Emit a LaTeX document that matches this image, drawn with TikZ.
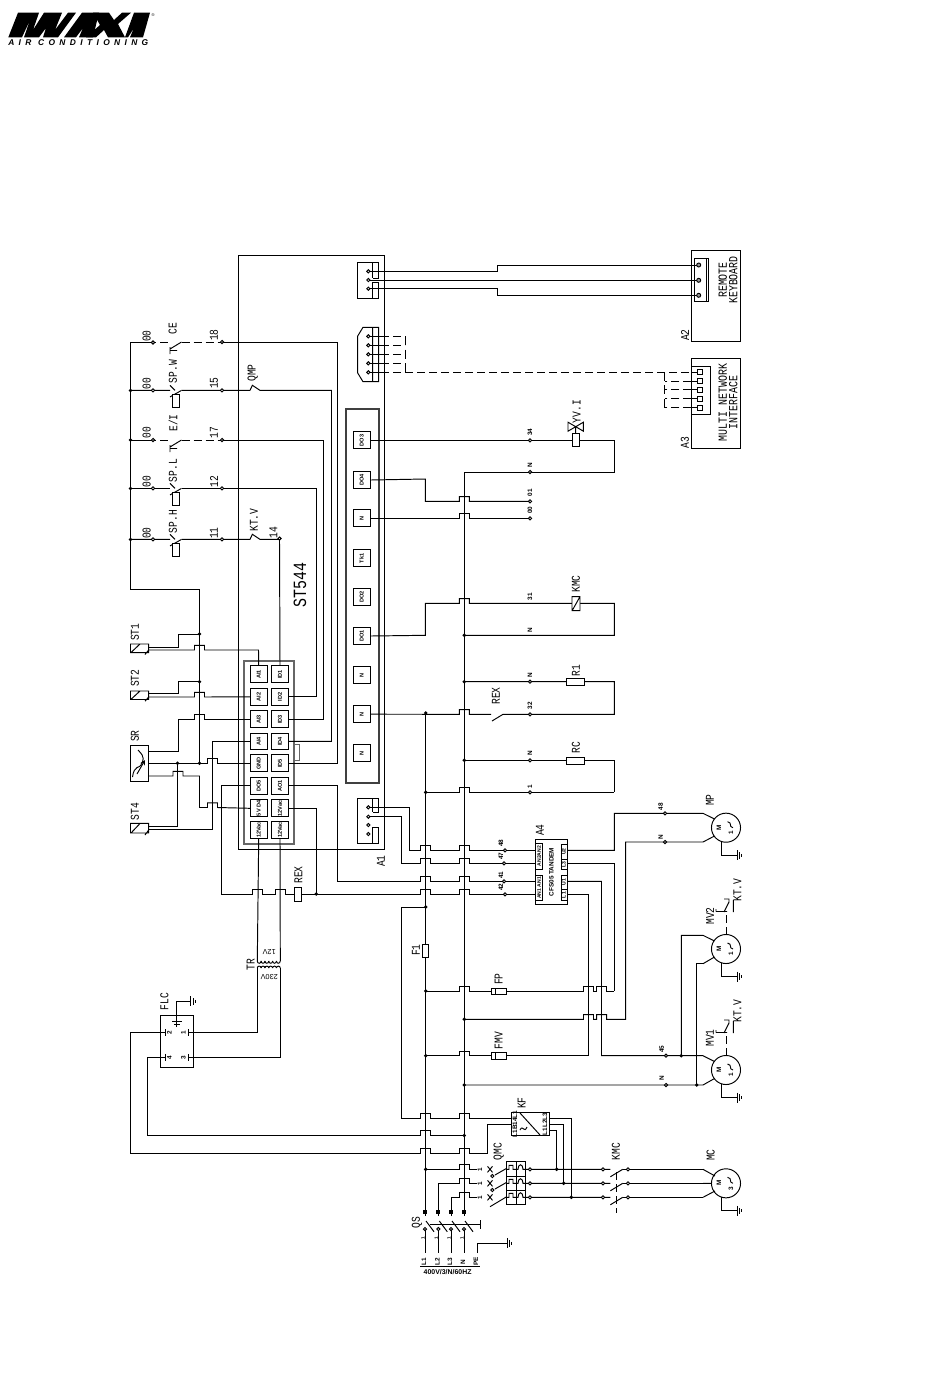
\documentclass[tikz,border=0pt]{standalone}
\usepackage{fontspec}
\setmainfont{Liberation Sans}
\newfontfamily\cad[FakeStretch=0.8]{Liberation Mono}
\newfontfamily\logof[LetterSpace=52]{Liberation Sans}
\newcount\lc
\tikzset{
 wire/.style={line width=0.72pt,line join=miter},
 dwire/.style={line width=0.72pt,dash pattern=on 6pt off 3pt},
 iobox/.style={draw,line width=0.72pt,fill=white,minimum width=12.5pt,minimum height=12.5pt,inner sep=0pt,font=\fontsize{4.2}{4}\selectfont\bfseries},
 lab/.style={inner sep=0pt,font=\cad\fontsize{9}{9}\selectfont},
 tiny/.style={inner sep=0pt,font=\fontsize{4.8}{5}\selectfont\bfseries},
}
% hump of a wire over a vertical line at x, wire running left to right at y
\newcommand\jp[2]{-- ({#1-5},#2) -- ({#1-5},{#2-4.6}) -- ({#1+5},{#2-4.6}) -- ({#1+5},#2)}
\newcommand\dt[2]{\fill (#1,#2) circle (1.9);}
\newcommand\tm[2]{\filldraw[fill=white,line width=0.7pt] (#1,#2) circle (1.6);}
\newcommand\lb[3]{\global\advance\lc by 1 \node[lab,rotate=90] (lb\the\lc) at (#1,#2) {#3};}
\newcommand\lh[3]{\global\advance\lc by 1 \node[tiny,rotate=90] (lb\the\lc) at (#1,#2) {#3};}
\newcommand\earth[2]{\draw[wire] (#1,{#2-5}) -- (#1,{#2+5}) ({#1+2.4},{#2-3.2}) -- ({#1+2.4},{#2+3.2}) ({#1+4.6},{#2-1.5}) -- ({#1+4.6},{#2+1.5});}
\newcommand\motor[3]{%
 \node[circle,draw,line width=0.72pt,minimum size=21.8pt,inner sep=0pt] (#1) at (726,#2) {};
 \lh{719}{#2}{M}\lh{731}{#2+5}{#3}
 \draw[line width=.7pt] (727.5,{#2-6}) .. controls (733,{#2-5}) and (728,{#2-1}) .. (733,{#2});
 \draw[wire] (721.7,{#2+13.7}) -- (721.7,{#2+27.6}) -- (737.3,{#2+27.6});
 \earth{737.3}{#2+27.6}}
\newcommand\ktv[1]{% y of motor
 \draw[dwire] (726,{#1-14.5}) -- (726,{#1-37});
 \draw[wire] (716,{#1-37.5}) -- (727,{#1-37.5}) (716,{#1-37.5}) -- (716,{#1-40}) (724,{#1-37}) -- (729,{#1-47}) (724,{#1-50}) -- (729,{#1-50}) -- (729,{#1-46}) (733.3,{#1-49}) -- (733.3,{#1-37});}
\newcommand\spc[2]{% pressure contact with actuator
 \draw[wire] (170,{#1-5}) -- (175,#1) (170,{#1+6.5}) -- (181.5,#1) (175.7,{#1+3}) -- (175.7,{#1+4});
 \draw[wire,fill=white] (172.4,{#1+4}) rectangle (179,{#1+17.5});}
\newcommand\fic[1]{% flow contact with dashed wires
 \draw[wire] (170,{#1+7}) -- (181.5,#1) (170,{#1+8.5}) -- (177,{#1+8.5}) (170,{#1+5}) -- (170,{#1+12});}
\begin{document}
\begin{tikzpicture}[x=0.75pt,y=-0.75pt]
\useasboundingbox (0,0) rectangle (950,1379);
% ---------- logo
\fill (8.3,37.3) -- (18,12.7) -- (39,12.7) -- (33,30) -- (44,12.7) -- (62,12.7) -- (55,30) -- (68,12.7) -- (76,12.7) -- (58,37.3) -- (43,37.3) -- (46,28) -- (39,37.3) -- (24,37.3) -- (30,20) -- (22,37.3) -- cycle;
\fill (64,37.3) -- (82,12.7) -- (99,12.7) -- (93,37.3) -- (79,37.3) -- (83,28) -- (76,37.3) -- cycle;
\fill (93,12.7) -- (109,12.7) -- (114,20) -- (122,12.7) -- (131,12.7) -- (118,24) -- (125,37.3) -- (108,37.3) -- (104,30) -- (96,37.3) -- (86,37.3) -- (100,25) -- cycle;
\fill (125,37.3) -- (134,12.7) -- (150,12.7) -- (143,37.3) -- (130,37.3) -- (134,28) -- (128,37.3) -- cycle;
\node[inner sep=0pt,font=\fontsize{3}{3}\selectfont] (reg) at (153,15) {®};
\node[inner sep=0pt,anchor=west,font=\logof\fontsize{6.3}{7}\selectfont\bfseries\itshape] (airc) at (8,43) {AIR CONDITIONING};
% ---------- A1 and panels
\draw[wire] (238.3,255) rectangle (384.5,849);
\draw[line width=1.3pt,black!75] (345.7,409) rectangle (379,783.3);
\draw[line width=1.3pt,black!60] (244,661) rectangle (294.3,844);
\draw[line width=.7pt,black!60] (294.3,744) -- (299.5,744) -- (299.5,760) -- (294.3,760);
% ---------- I/O boxes of module
\foreach \n/\t/\y in {ai1/AI1/674.3,ai2/AI2/696.8,ai3/AI3/719.3,ai4/AI4/741.4,gnd/GND/763.3,do5/DO5/785.7,vd/5V D4/808.3,vl/12Vac/830}
 \node[iobox] (\n) at (258.7,\y) {\rotatebox{90}{\t}};
\foreach \n/\t/\y in {id1/ID1/674.3,id2/ID2/696.8,id3/ID3/719.3,id4/ID4/741.4,id5/ID5/763.3,ao1/AO1/785.7,vr/12Vac/808.3,vm/12Vac/830}
 \node[iobox] (\n) at (280,\y) {\rotatebox{90}{\t}};
\foreach \n/\t/\y in {od3/DO3/440.3,od4/DO4/480,on1/N/518.3,tk/Tk1/558.3,od2/DO2/597,od1/DO1/636,on2/N/675,on3/N/714.2,on4/N/753}
 \node[iobox] (\n) at (361.7,\y) {\rotatebox{90}{\t}};
% ---------- left rail
\draw[wire] (130.5,342) -- (130.5,589) -- (199.5,589) -- (199.5,763.3);
\foreach \y in {390.4,440,488.4,539.4} {\dt{130.5}{\y}}
% CE
\draw[wire] (130.5,342) -- (148,342);
\draw[dwire] (148,342) -- (170,342) (181.5,342) -- (222,342);
\draw[wire] (222,342) -- (337.5,342) -- (337.5,763.3) -- (id5.east);
\fic{342}
\tm{153}{342.5}\tm{222}{342}
% SP.W
\draw[wire] (130.5,390.4) -- (170,390.4) (181.5,390.4) -- (250,390.4) (250,390.4) -- (252.5,385) (252,385) -- (260,390.4) -- (331.5,390.4) -- (331.5,741.4) -- (id4.east);
\spc{390.4}{}
\tm{153}{390.4}\tm{222}{390.4}
% E/I
\draw[wire] (130.5,440) -- (148,440);
\draw[dwire] (148,440) -- (170,440) (181.5,440) -- (222,440);
\draw[wire] (222,440) -- (323.5,440) -- (323.5,719.3) -- (id3.east);
\fic{440}
\tm{153}{440}\tm{222}{440}
% SP.L
\draw[wire] (130.5,488.4) -- (170,488.4) (181.5,488.4) -- (316.5,488.4) -- (316.5,696.8) -- (id2.east);
\spc{488.4}{}
\tm{153}{488.4}\tm{222}{488.4}
% SP.H
\draw[wire] (130.5,539.4) -- (170,539.4) (181.5,539.4) -- (250,539.4) -- (252.5,534) (252,534) -- (260,539.4) -- (279.5,539.4) -- (id1.north);
\spc{539.4}{}
\tm{153}{539.4}\tm{222}{539.4}\tm{279.5}{538.5}
% ---------- sensors
\draw[wire] (130.5,644) rectangle (148.7,652.7) (131,652.5) -- (140,644) (145,654.5) -- (148.7,650);
\draw[wire] (148.7,647) -- (178,647) -- (178,634) -- (199.5,634);
\draw[wire] (148.7,650) \jp{199.5}{650} -- (258.5,650) -- (ai1.north);
\dt{199.5}{634}
\draw[wire] (130.5,691) rectangle (148.7,699.5) (131,699.3) -- (140,691) (145,701.2) -- (148.7,697);
\draw[wire] (148.7,693.5) -- (178,693.5) -- (178,681.7) -- (199.5,681.7);
\draw[wire] (148.7,697) \jp{199.5}{697} -- (ai2.west);
\dt{199.5}{681.7}
\draw[wire] (130.5,745.7) rectangle (148.7,781);
\draw[line width=.7pt] (132.5,777) .. controls (134,765) and (140,768) .. (141,765) .. controls (143,760) and (146,758) .. (138,750);
\draw[line width=.7pt,-stealth] (137,774) -- (145,760);
\draw[wire] (148.7,751.7) -- (178,751.7) -- (178,719.3) \jp{199.5}{719.3} -- (ai3.west);
\draw[wire] (148.7,763.3) \jp{212.5}{763.3} -- (gnd.west);
\dt{177.5}{763.3}\dt{199.5}{763.3}
\draw[wire] (148.7,776) \jp{178}{776} -- (199.5,776) -- (199.5,807.5) \jp{212.5}{807.5} -- (vd.west);
\draw[wire] (130.5,823.3) rectangle (148.7,833) (131,833) -- (140,823.5) (145,835) -- (148.7,830);
\draw[wire] (148.7,826) -- (177.8,826) -- (177.8,763.3);
\draw[wire] (148.7,829.5) -- (212.5,829.5) -- (212.5,741.4) -- (ai4.west);
% ---------- module outputs and REX
\draw[wire] (do5.west) -- (221,785.7) -- (221,894) \jp{257.3}{894} \jp{280.3}{894} -- (294.3,894);
\draw[wire,fill=white] (294.3,887.3) rectangle (301.7,901.7);
\draw[wire] (301.7,894) \jp{425.7}{894} \jp{464.3}{894} -- (535.3,894);
\draw[wire] (vr.east) -- (316.3,808.3) -- (316.3,894); \dt{316.3}{894}
\draw[wire] (ao1.east) -- (337.5,785.7) -- (337.5,881.3) \jp{425.7}{881.3} \jp{464.3}{881.3} -- (535.3,881.3);
\draw[wire] (vl.south) -- (257.3,961);
\draw[wire] (vm.south) -- (280.3,961);
% ---------- transformer
\foreach \i in {0,...,5} {
 \draw[line width=.7pt] ({257.3+\i*3.83},961) .. controls ({257.3+\i*3.83},964) and ({261.1+\i*3.83},964) .. ({261.1+\i*3.83},961);
 \draw[line width=.7pt] ({257.3+\i*3.83},968) .. controls ({257.3+\i*3.83},965.5) and ({261.1+\i*3.83},965.5) .. ({261.1+\i*3.83},968);}
\draw[wire] (257.3,968) -- (257.3,1032.7) -- (193.3,1032.7);
\draw[wire] (280.3,968) -- (280.3,1057.3) -- (193.3,1057.3);
% ---------- FLC
\draw[wire] (160.7,1015) rectangle (193.3,1067.3);
\draw[wire] (176.7,1027) -- (176.7,1001.3) -- (190.7,1001.3);
\earth{190.7}{1001.3}
\draw[wire] (172,1021.5) -- (181.5,1021.5) (174,1024) -- (179.5,1024);
\draw[wire] (165,1029) -- (165,1036) (188.3,1029) -- (188.3,1036) (165,1053.8) -- (165,1060.8) (188.3,1053.8) -- (188.3,1060.8);
\draw[wire] (160.7,1032.7) -- (165,1032.7) (160.7,1057.3) -- (165,1057.3) (188.3,1032.7) -- (193.3,1032.7) (188.3,1057.3) -- (193.3,1057.3);
\lh{169.5}{1032.7}{2}\lh{183.5}{1032.7}{1}\lh{169.5}{1057.3}{4}\lh{183.5}{1057.3}{3}
\draw[wire] (160.7,1032.7) -- (130.7,1032.7) -- (130.7,1153) \jp{425.7}{1153} \jp{464.3}{1153} -- (487.3,1153) -- (487.3,1124.3) -- (511,1124.3);
\draw[wire] (160.7,1057.3) -- (147.3,1057.3) -- (147.3,1135.5) \jp{425.7}{1135.5} -- (464.3,1135.5);
\dt{464.3}{1135.5}
% ---------- main buses
\draw[wire] (425.7,713) -- (425.7,1216);
\draw[wire] (464.3,472) -- (464.3,1216);
\draw[wire,fill=white] (422,944.3) rectangle (428.9,957.7);
\foreach \y in {713,792.3,907,991,1055.7,1169.3} {\dt{425.7}{\y}}
\foreach \y in {635.3,681.7,760.3,1019.3,1085} {\dt{464.3}{\y}}
\draw[wire] (425.7,907) -- (401.7,907) -- (401.7,1118) \jp{425.7}{1118} \jp{464.3}{1118} -- (511,1118);
% ---------- DO rungs
\draw[wire] (od3.east) -- (572.3,440.3) (579.7,440.3) -- (614.3,440.3) -- (614.3,472) -- (464.3,472);
\draw[wire,fill=white] (572.3,433.3) rectangle (579.7,446.7);
\draw[wire] (568,422.2) -- (583.4,431.2) -- (583.4,422.2) -- (568,431.2) -- cycle (575.7,426.7) -- (575.7,433.3);
\draw[wire] (od4.east) -- (425.3,479) -- (425.3,501.3) \jp{464.3}{501.3} -- (530,501.3);
\draw[wire] (on1.east) \jp{464.3}{518.3} -- (530,518.3);
\draw[wire] (od1.east) -- (425.3,635.3) -- (425.3,603.3) \jp{464.3}{603.3} -- (572,603.3) (580,603.3) -- (614.3,603.3) -- (614.3,635.3) -- (464.3,635.3);
\draw[wire,fill=white] (572,596.7) rectangle (580,610.7) (572.5,610) -- (579.5,597.5);
\draw[wire] (464.3,681.7) -- (566.3,681.7) (584.7,681.7) -- (614.3,681.7) -- (614.3,714.3) -- (503,714.3) -- (492,721);
\draw[wire,fill=white] (566.3,678.3) rectangle (584.7,685.7);
\draw[wire] (on3.east) \jp{464.3}{714.3} -- (491,714.3);
\draw[wire] (464.3,760.3) -- (566.3,760.3) (584.7,760.3) -- (614.3,760.3) -- (614.3,792.3);
\draw[wire,fill=white] (566.3,757) rectangle (584.7,764);
\draw[wire] (425.7,792.3) \jp{464.3}{792.3} -- (614.3,792.3);
\tm{530}{440.3}\tm{530}{472}\tm{530}{501.3}\tm{530}{518.3}\tm{530}{681.7}\tm{530}{714.3}\tm{530}{760.3}\tm{530}{792.3}
\lh{530}{432}{34}\lh{530}{465}{N}\lh{530}{492.7}{01}\lh{530}{510}{00}\lh{530}{596.7}{31}\lh{530}{630}{N}\lh{530}{675}{N}\lh{530}{705.7}{32}\lh{530}{753}{N}\lh{530}{786.7}{1}
% ---------- connectors on A1
\draw[wire] (372,262.7) -- (357.7,262.7) -- (357.7,298.7) -- (372,298.7) (372,262.7) -- (378.7,262.7) -- (378.7,278.3) -- (372.7,278.3) (372.7,262.7) -- (372.7,278.3) (372.7,282.3) -- (378.7,282.3) -- (378.7,298.7) -- (372,298.7) (372.7,282.3) -- (372.7,298.7);
\draw[wire] (372,327.3) -- (363,327.3) -- (357.7,336) -- (357.7,373) -- (363,381.7) -- (372,381.7) (372,327.3) -- (378.7,327.3) -- (378.7,381.7) -- (372,381.7) (372.7,327.3) -- (372.7,381.7);
\draw[wire] (372,798.3) -- (357.7,798.3) -- (357.7,843.3) -- (372,843.3) (372,798.3) -- (378.7,798.3) -- (378.7,812) -- (372.7,812) (372.7,798.3) -- (372.7,812) (372.7,827) -- (378.7,827) -- (378.7,843.3) -- (372,843.3) (372.7,827) -- (372.7,843.3);
\draw[wire] (368.3,271.3) -- (497.3,271.3) -- (497.3,265) -- (698.7,265);
\draw[wire] (368.3,280) -- (698.7,280);
\draw[wire] (368.3,288.7) -- (497.3,288.7) -- (497.3,295.3) -- (698.7,295.3);
\foreach \y in {336.3,345.3,354.3,363.3,372.3} {\draw[wire] (368.3,\y) -- (381,\y); \draw[dwire] (381,\y) -- (405,\y);}
\draw[wire] (405.5,336.3) -- (405.5,345.3) (405.5,349.5) -- (405.5,359) (405.5,363.3) -- (405.5,372.3);
\draw[dwire] (405,372.3) -- (692,372.3);
\draw[wire] (368.3,807.3) -- (409.3,807.3) -- (409.3,850.3) \jp{425.7}{850.3} \jp{464.3}{850.3} -- (535.3,850.3);
\draw[wire] (368.3,816.7) -- (401.7,816.7) -- (401.7,863.3) \jp{425.7}{863.3} \jp{464.3}{863.3} -- (535.3,863.3);
\foreach \y in {271.3,280,288.7,336.3,345.3,354.3,363.3,372.3,807.3,816.7,825,834} {\tm{368.3}{\y}}
% ---------- A2, A3
\draw[wire] (691.3,250) rectangle (740,341);
\draw[wire] (694.3,258.3) rectangle (706,301.7) (706,258.3) -- (708.7,258.3) -- (708.7,301.7) -- (706,301.7);
\foreach \y in {265,280.3,295.3} {\filldraw[fill=black!40,line width=.7pt] (698.7,\y) circle (2);}
\draw[wire] (691.3,358.3) rectangle (740,448.3);
\draw[wire] (691.3,366) rectangle (710.7,414);
\foreach \y in {372.3,381,389.7,398.7,407.7} {\draw[wire] (697.5,\y-2.5) rectangle (702.5,\y+2.5); \draw[wire] (691.3,\y) -- (697.5,\y);}
\foreach \y in {381,389.7,398.7,407.7} {\draw[dwire] (691.3,\y) -- (664.7,\y);}
\draw[wire] (664.7,372.3) -- (664.7,381) (664.7,385) -- (664.7,394.3) (664.7,398.7) -- (664.7,407.7);
\node[lab,rotate=90,align=center,font=\cad\fontsize{9.3}{7.8}\selectfont] (rkb) at (728,280) {REMOTE\\KEYBOARD};
\node[lab,rotate=90,align=center,font=\cad\fontsize{9.3}{7.8}\selectfont] (mni) at (728,402.5) {MULTI NETWORK\\INTERFACE};
% ---------- A4
\draw[wire,fill=white] (535.3,839.3) rectangle (567.3,904.3);
\foreach \a/\b/\t in {843/869/AN2AN2,875/900.7/AN1 AN1} {\draw[line width=.6pt] (535.8,\a) rectangle (542.7,\b); \node[tiny,rotate=90,font=\fontsize{3.8}{4}\selectfont\bfseries] at (539.2,{(\a+\b)/2}) {\t};}
\foreach \a/\b/\t in {844/859/U2,859.5/869.5/L3,875/889/U1,889.5/900.7/L1} {\draw[line width=.6pt] (561,\a) rectangle (567,\b); \node[tiny,rotate=90,font=\fontsize{3.8}{4}\selectfont\bfseries] at (564,{(\a+\b)/2}) {\t};}
\lh{551.5}{872}{CFS05 TANDEM}
\draw[wire] (567.3,850.3) -- (614.3,850.3) -- (614.3,813.3) -- (703,813.3) -- (714.5,819);
\draw[wire] (567.3,863.3) -- (614.3,863.3) -- (614.3,991);
\draw[wire] (425.7,991) \jp{464.3}{991} -- (491.3,991) (506,991) \jp{588.5}{991} \jp{601.7}{991} -- (614.3,991);
\draw[wire,fill=white] (491.3,988) rectangle (506,994.7);
\draw[wire] (495,988) -- (495,994.7);
\draw[wire] (464.3,1019.3) \jp{588.5}{1019.3} \jp{601.7}{1019.3} -- (625.7,1019.3) -- (625.7,842) -- (703,842) -- (714.5,836);
\draw[wire] (567.3,894.3) -- (588.5,894.3) -- (588.5,1055.7);
\draw[wire] (425.7,1055.7) \jp{464.3}{1055.7} -- (491.3,1055.7) (506,1055.7) -- (588.5,1055.7);
\draw[wire,fill=white] (491.3,1052.3) rectangle (506,1059);
\draw[wire] (495,1052.3) -- (495,1059);
\draw[wire] (567.3,881.3) -- (601.5,881.3) -- (601.5,1055.7) -- (703,1055.7) -- (714.5,1061.5);
\dt{681.3}{1055.7}
\draw[wire] (681.3,1055.7) -- (681.3,935.3) -- (703,935.3) -- (714.5,941);
\draw[wire] (703,963.7) -- (696.7,963.7) -- (696.7,1085);
\draw[wire] (703,963.7) -- (714.5,957);
\draw[wire] (464.3,1085) -- (703,1085) -- (714.5,1078.5);
\dt{696.7}{1085}
\foreach \x/\y in {505/850.3,504/863.3,504/881.3,505/894.3,665/813.3,665/842,666/1055.7,666/1085} {\tm{\x}{\y}}
\lh{501}{843.3}{48}\lh{501}{856}{47}\lh{501}{875}{41}\lh{501}{887}{42}\lh{660.7}{806.7}{48}\lh{660.7}{836.7}{N}\lh{661.7}{1049}{45}\lh{661.7}{1078}{N}
% ---------- motors
\motor{mp}{827.7}{1}
\motor{mvb}{949}{1}
\motor{mva}{1070}{1}
\motor{mc}{1183.3}{3}
\ktv{949}\ktv{1070}
% ---------- KF
\draw[wire] (511,1112.3) rectangle (549.7,1135.7);
\draw[wire] (520,1113) -- (540,1135);
\draw[line width=.7pt] (520,1130) .. controls (523,1124) and (524,1134) .. (527,1127);
\lh{515}{1124}{L1B14L1}\lh{545}{1124}{L1L2L3}
\draw[wire] (549.7,1118.3) -- (571.3,1118.3) -- (571.3,1197.3);
\draw[wire] (549.7,1124.3) -- (563.7,1124.3) -- (563.7,1183.3);
\draw[wire] (549.7,1130) -- (556.7,1130) -- (556.7,1169.3);
\dt{571.3}{1197.3}\dt{563.7}{1183.3}\dt{556.7}{1169.3}
% ---------- QMC / KMC / QS feeders
\draw[wire] (425.7,1169.3) \jp{464.3}{1169.3} -- (476.7,1169.3);
\draw[wire] (438.3,1216) -- (438.3,1183.3) \jp{464.3}{1183.3} -- (476.7,1183.3);
\draw[wire] (451,1216) -- (451,1197.3) \jp{464.3}{1197.3} -- (476.7,1197.3);
\foreach \y in {1169.3,1183.3,1197.3} {
 \draw[line width=.7pt] (487.5,\y-3) -- (492.5,\y+3) (487.5,\y+3) -- (492.5,\y-3);
 \draw[wire] (507,\y) -- (509,\y) -- (509,\y-4) -- (513,\y-4) -- (513,\y) -- (518,\y) .. controls (518,\y-6) and (523,\y-6) .. (523,\y) -- (610.3,\y);
 \draw[wire] (622.7,\y) -- (703,\y);
 \draw[wire] (622.7,\y) -- (610.3,\y+7.5);
 \tm{603}{\y}\tm{530}{\y}\tm{628}{\y}
 \node[tiny,rotate=90] at (480,\y) {1};}
\draw[wire] (506.7,1168.3) -- (495,1175) (506.7,1182.3) -- (495,1189) (506.7,1196.7) -- (490,1206.7);
\tm{492.3}{1176}\tm{492.3}{1190}
\draw[wire] (506.7,1161) rectangle (525.7,1204.3) (516,1161) -- (516,1204.3) (506.7,1176.7) -- (525.7,1176.7) (506.7,1190) -- (525.7,1190);
\draw[dwire] (616.7,1172) -- (616.7,1213);
\draw[wire] (703,1169.3) -- (715,1176) (703,1183.3) -- (711.5,1183.3) (703,1197.3) -- (715,1191);
% QS
\foreach \x/\t in {425/L1,438.3/L2,451/L3,464/N} {
 \draw[wire] (\x,1229) -- (\x,1253);
 \draw[wire] (\x+1,1221) -- (\x+9,1231.7);
 \tm{\x}{1229}
 \fill (\x-2,1210) rectangle (\x+2,1214);
 \node[tiny,rotate=90] at (\x-1,1261.7) {\t};
 \node[tiny,rotate=90,font=\fontsize{3.5}{4}\selectfont\bfseries] at (\x-2,1238) {1};}
\draw[wire] (430,1224.5) -- (480.7,1224.5) (480.7,1220) -- (480.7,1229);
\lh{476}{1261.7}{PE}
\draw[wire] (477,1253) -- (477,1243.3) -- (507.3,1243.3);
\earth{507.3}{1243.3}
\draw[wire] (420,1266) -- (480,1266);
\node[tiny,font=\fontsize{5.2}{5}\selectfont\bfseries] (volt) at (447.6,1272.5) {400V/3/N/60HZ};
% ---------- labels
\lb{172.7}{328.3}{CE}\lb{173}{371.7}{SP.W}\lb{173}{423}{E/I}\lb{173}{470.7}{SP.L}\lb{173}{521.7}{SP.H}
\lb{254}{520}{KT.V}\lb{252.7}{373}{QMP}
\lb{146.7}{336}{00}\lb{146.7}{383.3}{00}\lb{146.7}{432.7}{00}\lb{146.7}{481.7}{00}\lb{146.7}{533}{00}
\lb{214}{335}{18}\lb{214}{383}{15}\lb{214}{432.7}{17}\lb{214}{481.7}{12}\lb{214}{533}{11}\lb{273.3}{532.7}{14}
\lb{135}{632.3}{ST1}\lb{135}{678.3}{ST2}\lb{135}{736}{SR}\lb{135}{811.7}{ST4}
\node[lab,rotate=90,font=\cad\fontsize{14}{14}\selectfont] (st) at (300,585) {ST544};
\lb{381}{861}{A1}\lb{685}{335}{A2}\lb{685}{442.7}{A3}\lb{540}{830}{A4}
\lb{298.3}{875}{REX}\lb{250.7}{964.3}{TR}\lb{164.3}{1001.7}{FLC}\lb{416}{950}{F1}
\lb{498.7}{979}{FP}\lb{498.7}{1040.7}{FMV}\lb{521.7}{1103}{KF}\lb{498.7}{1151.7}{QMC}\lb{616}{1151.7}{KMC}
\lb{710.7}{1155}{MC}\lb{710}{800}{MP}\lb{710}{916}{MV2}\lb{710}{1038}{MV1}\lb{737.5}{890}{KT.V}\lb{737.5}{1011}{KT.V}
\lb{576.7}{411.7}{YV.I}\lb{576}{584}{KMC}\lb{576}{670.7}{R1}\lb{576}{747.3}{RC}\lb{496}{696}{REX}
\lb{417}{1222.7}{QS}
\node[tiny,rotate=180,font=\fontsize{5.5}{6}\selectfont] (v12) at (269.3,952.3) {12V};
\node[tiny,rotate=180,font=\fontsize{5.5}{6}\selectfont] (v230) at (269.3,977) {230V};
\end{tikzpicture}
\end{document}
